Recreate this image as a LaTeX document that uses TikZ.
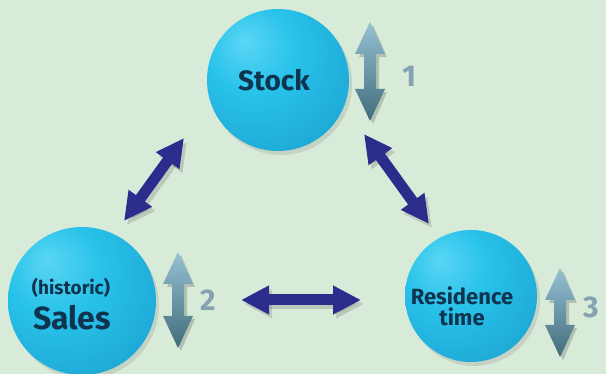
\documentclass[tikz,border=0pt]{standalone}
\usepackage{fontspec}
\setmainfont{Fira Sans}
\usetikzlibrary{arrows.meta,shadows}
\definecolor{bg}{RGB}{216,235,216}
\definecolor{sphA}{RGB}{90,214,244}
\definecolor{sphB}{RGB}{40,194,234}
\definecolor{sphC}{RGB}{28,164,210}
\definecolor{sphD}{RGB}{20,118,165}
\definecolor{txt}{RGB}{14,52,80}
\definecolor{navy}{RGB}{44,44,140}
\definecolor{varTop}{RGB}{150,192,212}
\definecolor{varBot}{RGB}{64,108,122}
\definecolor{digit}{RGB}{132,162,176}
\pgfdeclareradialshading{sph}{\pgfpoint{-12bp}{14bp}}{color(0bp)=(sphA); color(16bp)=(sphB); color(40bp)=(sphC); color(62bp)=(sphD); color(80bp)=(sphD)}
\tikzset{
  sphere/.style={circle, shading=sph, inner sep=0pt,
    drop shadow={opacity=0.22, shadow xshift=3pt, shadow yshift=-4pt}},
  lbl/.style={font=\bfseries, text=txt, align=center, inner sep=0pt},
  dbl/.style={draw=navy, line width=11pt, {Triangle[width=27pt,length=28pt]}-{Triangle[width=27pt,length=28pt]}},
  dblsh/.style={draw=black!60, opacity=0.25, line width=11pt, {Triangle[width=27pt,length=28pt]}-{Triangle[width=27pt,length=28pt]}},
  digitlbl/.style={font=\bfseries\fontsize{30}{30}\selectfont, text=digit, inner sep=0pt}
}
\newcommand{\vdarrow}[3]{%
  \fill[black, opacity=0.18] (#1+3,#2+3) -- (#1+17,#2+35) -- (#1+9,#2+35) -- (#1+9,#3-29) -- (#1+17,#3-29) -- (#1+3,#3+3) -- (#1-11,#3-29) -- (#1-3,#3-29) -- (#1-3,#2+35) -- (#1-11,#2+35) -- cycle;
  \shade[top color=varTop, bottom color=varBot] (#1,#2) -- (#1+15,#2+32) -- (#1+6,#2+32) -- (#1+6,#3-32) -- (#1+15,#3-32) -- (#1,#3) -- (#1-15,#3-32) -- (#1-6,#3-32) -- (#1-6,#2+32) -- (#1-15,#2+32) -- cycle;
}
\begin{document}
\begin{tikzpicture}[x=1pt,y=-1pt]
\fill[bg] (0,0) rectangle (606,374);
\useasboundingbox (0,0) rectangle (606,374);

% spheres
\node[sphere, minimum size=142pt] (stock) at (278,80) {};
\node[sphere, minimum size=148pt] (sales) at (82,301) {};
\node[sphere, minimum size=132pt] (res) at (471,296) {};

% labels
\node[lbl, font=\bfseries\fontsize{28}{28}\selectfont] (stocklbl) at (274,80) {Stock};
\node[lbl, font=\bfseries\fontsize{19}{19}\selectfont] (histlbl) at (71,288) {(historic)};
\node[lbl, font=\bfseries\fontsize{32}{32}\selectfont] (saleslbl) at (72,318) {Sales};
\node[lbl, font=\bfseries\fontsize{22}{22}\selectfont] (reslbl) at (462,296) {Residence};
\node[lbl, font=\bfseries\fontsize{22}{22}\selectfont] (timelbl) at (462,317) {time};

% double arrows between spheres
\coordinate (a1) at (124,221);
\coordinate (a2) at (184,138);
\coordinate (b1) at (364,134);
\coordinate (b2) at (429,224);
\coordinate (c1) at (241,300);
\coordinate (c2) at (361,300);
\draw[dblsh] ([shift={(3,4)}]a1) -- ([shift={(3,4)}]a2);
\draw[dblsh] ([shift={(3,4)}]b1) -- ([shift={(3,4)}]b2);
\draw[dblsh] ([shift={(3,4)}]c1) -- ([shift={(3,4)}]c2);
\draw[dbl] (a1) -- (a2);
\draw[dbl] (b1) -- (b2);
\draw[dbl] (c1) -- (c2);

% vertical change arrows
\vdarrow{370}{22}{121}
\vdarrow{178}{252}{348}
\vdarrow{560}{268}{357}

% digits
\node[digitlbl] (d1) at (409,76) {1};
\node[digitlbl] (d2) at (208,300) {2};
\node[digitlbl] (d3) at (591,307) {3};
\end{tikzpicture}
\end{document}
